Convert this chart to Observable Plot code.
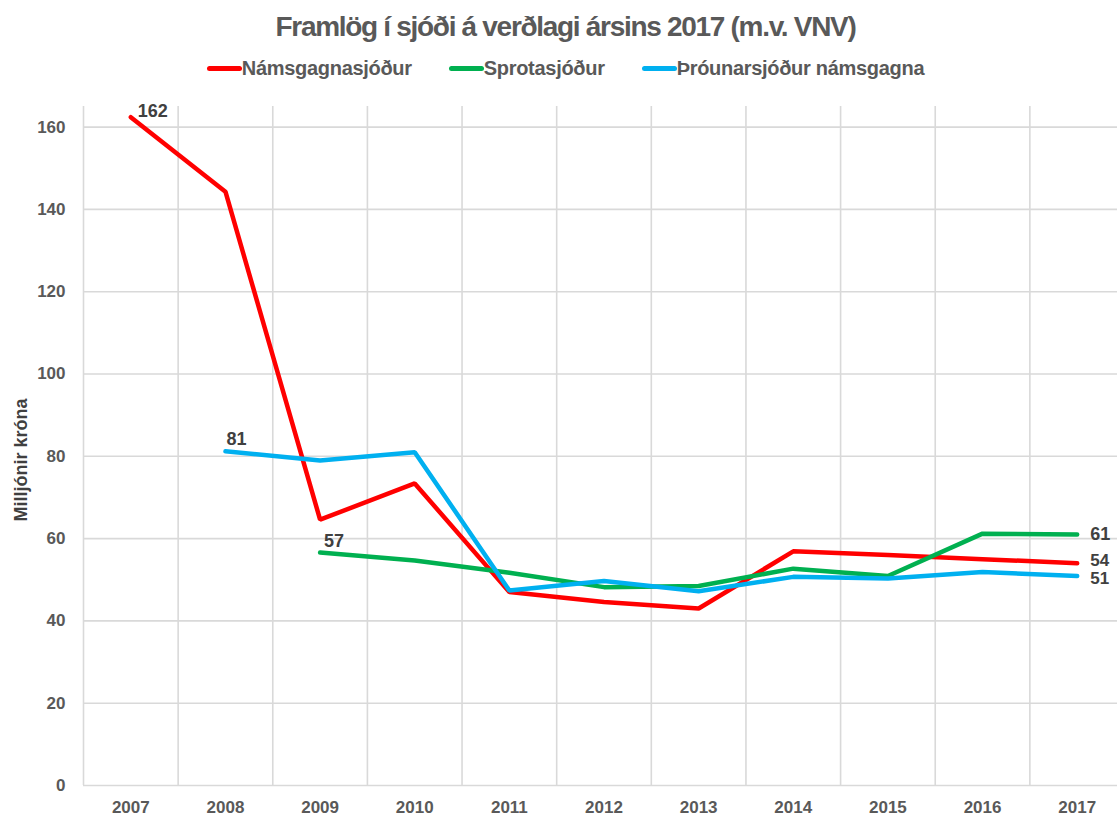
<!DOCTYPE html>
<html>
<head>
<meta charset="utf-8">
<script src="https://cdn.jsdelivr.net/npm/d3@7"></script>
<script src="https://cdn.jsdelivr.net/npm/@observablehq/plot@0.6"></script>
<style>
  body { margin: 0; background: #fff; font-family: "Liberation Sans", Arial, sans-serif; }
  #title { height: 48px; line-height: 54px; text-align: center; font-size: 28px; font-weight: bold; color: #595959; letter-spacing: -1.3px; padding-left: 14px; white-space: nowrap; }
  #legend { height: 40px; display: flex; justify-content: center; align-items: center; gap: 37px; font-size: 20px; font-weight: bold; color: #595959; letter-spacing: -0.3px; padding-left: 14px; }
  .item { display: flex; align-items: center; }
  .sw { width: 35px; height: 5px; border-radius: 3px; margin-right: 0px; }
</style>
</head>
<body>
<div id="title">Framlög í sjóði á verðlagi ársins 2017 (m.v. VNV)</div>
<div id="legend"></div>
<div id="chart"></div>
<script>
const years = [2007, 2008, 2009, 2010, 2011, 2012, 2013, 2014, 2015, 2016, 2017];
const seriesNames = ["Námsgagnasjóður", "Sprotasjóður", "Þróunarsjóður námsgagna"];
const seriesColors = ["#ff0000", "#00b050", "#00b0f0"];
const namsgagnasjodur = [162.4, 144.3, 64.6, 73.4, 47.0, 44.6, 43.0, 56.9, 56.0, 55.0, 54.0];
const sprotasjodur = [null, null, 56.6, 54.7, 51.7, 48.2, 48.5, 52.7, 50.9, 61.2, 61.0];
const throunarsjodur = [null, 81.2, 79.0, 81.0, 47.4, 49.7, 47.2, 50.7, 50.3, 51.9, 50.9];
const yTicks = [0, 20, 40, 60, 80, 100, 120, 140, 160];
// labels: [series index, year index, text, dx, dy, fontSize]
const labels = [
  [0, 0, "162", 7, -6, 18],
  [2, 1, "81", 1, -12, 18],
  [1, 2, "57", 4, -11, 18],
  [1, 10, "61", 13, 0, 18],
  [0, 10, "54", 13, -3, 17],
  [2, 10, "51", 13, 3, 17]
];

const allValues = [namsgagnasjodur, sprotasjodur, throunarsjodur];
const rows = [];
allValues.forEach((vals, si) => vals.forEach((v, i) => {
  if (v != null) rows.push({series: seriesNames[si], year: years[i], value: v});
}));
const labelRows = labels.map(([si, yi, t, dx, dy, fs]) => ({year: years[yi], value: allValues[si][yi], text: t, dx, dy, fs}));
const bounds = years.map(y => y - 0.5).concat([years[years.length - 1] + 0.5]);

const legend = document.getElementById("legend");
seriesNames.forEach((n, i) => {
  const it = document.createElement("div");
  it.className = "item";
  it.innerHTML = `<span class="sw" style="background:${seriesColors[i]}"></span><span>${n}</span>`;
  legend.appendChild(it);
});

const gridColor = "#d9d9d9";
const plot = Plot.plot({
  width: 1117,
  height: 731,
  marginTop: 18,
  marginBottom: 34,
  marginLeft: 83,
  marginRight: -7,
  style: { fontFamily: "Liberation Sans, Arial, sans-serif", background: "#fff", overflow: "visible" },
  x: { type: "linear", domain: [2006.5, 2017.5], axis: null },
  y: { domain: [0, 165], axis: null },
  color: { domain: seriesNames, range: seriesColors },
  marks: [
    Plot.ruleX(bounds, { x: d => d, y1: 0, y2: 165, stroke: gridColor, strokeWidth: 1.6 }),
    Plot.ruleY(yTicks, { y: d => d, stroke: gridColor, strokeWidth: 1.6 }),
    Plot.axisY(yTicks, { ticks: yTicks, tickSize: 0, tickPadding: 18, fontSize: 17, fontWeight: "bold", fill: "#595959", letterSpacing: "-0.5px", label: null }),
    Plot.axisX(years, { ticks: years, tickSize: 0, tickPadding: 15, fontSize: 17, fontWeight: "bold", fill: "#595959", letterSpacing: "-0.5px", tickFormat: d => String(d), label: null }),
    Plot.text(["Milljónir króna"], { frameAnchor: "left", textAnchor: "middle", dx: -62, dy: 14, rotate: -90, fontSize: 18, fontWeight: "bold", fill: "#404040", letterSpacing: "-0.2px" }),
    Plot.line(rows, { x: "year", y: "value", z: "series", stroke: "series", strokeWidth: 4.5, strokeLinecap: "round", strokeLinejoin: "miter" }),
    ...labelRows.map(r => Plot.text([r], { x: "year", y: "value", text: "text", dx: r.dx, dy: r.dy, textAnchor: "start", fontSize: r.fs, fontWeight: "bold", fill: "#404040", letterSpacing: "-0.8px" }))
  ]
});
document.getElementById("chart").appendChild(plot);
</script>
</body>
</html>
